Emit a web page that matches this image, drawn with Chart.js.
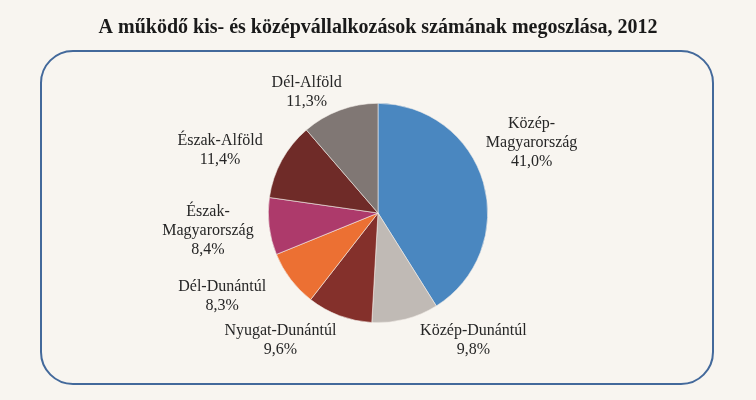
<!DOCTYPE html>
<html>
<head>
<meta charset="utf-8">
<script src="https://cdn.jsdelivr.net/npm/chart.js@4"></script>
<style>
  html, body { margin: 0; padding: 0; background: #F8F5F0; }
  #wrap { width: 756px; height: 400px; position: relative; }
</style>
</head>
<body>
<div id="wrap"><canvas id="pie"></canvas></div>
<script>
// Régiók és arányok (%), az óramutató járásával megegyezően, felülről indulva
const regions = [
    ['Közép-', 'Magyarország'],
    ['Közép-Dunántúl'],
    ['Nyugat-Dunántúl'],
    ['Dél-Dunántúl'],
    ['Észak-', 'Magyarország'],
    ['Észak-Alföld'],
    ['Dél-Alföld']
];
const shares = [41.0, 9.8, 9.6, 8.3, 8.4, 11.4, 11.3];
const sliceColors = ['#4A87C0', '#C0BAB5', '#84302B', '#EC7033', '#AD3A6B', '#6F2B28', '#807774'];

// Címkék helye a kör sugarához viszonyítva (a középponttól)
const labelSpots = [[1.40, -0.64], [0.87, 1.16], [-0.89, 1.16], [-1.42, 0.76], [-1.55, 0.16], [-1.44, -0.57], [-0.65, -1.10]];

const fmt = v => v.toFixed(1).replace('.', ',') + '%';

// Háttér és lekerekített keret
const framePlugin = {
    id: 'frame',
    beforeDraw(chart) {
        const ctx = chart.ctx;
        ctx.save();
        ctx.fillStyle = '#F8F5F0';
        ctx.fillRect(0, 0, chart.width, chart.height);
        const x0 = 41, y0 = 51, x1 = 713, y1 = 384, rad = 32;
        ctx.beginPath();
        ctx.moveTo(x0 + rad, y0);
        ctx.lineTo(x1 - rad, y0);
        ctx.arcTo(x1, y0, x1, y0 + rad, rad);
        ctx.lineTo(x1, y1 - rad);
        ctx.arcTo(x1, y1, x1 - rad, y1, rad);
        ctx.lineTo(x0 + rad, y1);
        ctx.arcTo(x0, y1, x0, y1 - rad, rad);
        ctx.lineTo(x0, y0 + rad);
        ctx.arcTo(x0, y0, x0 + rad, y0, rad);
        ctx.closePath();
        ctx.strokeStyle = '#43699B';
        ctx.lineWidth = 2;
        ctx.stroke();
        ctx.restore();
    }
};

// Szeletcímkék: név + százalék
const labelPlugin = {
    id: 'sliceLabels',
    afterDatasetsDraw(chart) {
        const ctx = chart.ctx;
        const meta = chart.getDatasetMeta(0);
        ctx.save();
        ctx.font = '16px "Liberation Serif", "DejaVu Serif", serif';
        ctx.fillStyle = '#262626';
        ctx.textAlign = 'center';
        ctx.textBaseline = 'middle';
        meta.data.forEach((arc, i) => {
            const p = arc.getProps(['x', 'y', 'outerRadius'], true);
            const lines = regions[i].concat([fmt(shares[i])]);
            const cx = p.x + labelSpots[i][0] * p.outerRadius;
            const cy = p.y + labelSpots[i][1] * p.outerRadius;
            const lh = 19;
            const top = cy - (lines.length - 1) * lh / 2;
            lines.forEach((t, k) => ctx.fillText(t, cx, top + k * lh));
        });
        ctx.restore();
    }
};

new Chart(document.getElementById('pie').getContext('2d'), {
    type: 'pie',
    data: {
        labels: regions,
        datasets: [{
            data: shares,
            backgroundColor: sliceColors,
            borderColor: '#F3EFEA',
            borderWidth: 0.6
        }]
    },
    options: {
        responsive: true,
        maintainAspectRatio: false,
        animation: false,
        layout: { padding: { top: 0, bottom: 77, left: 0, right: 0 } },
        plugins: {
            legend: { display: false },
            tooltip: { enabled: false },
            title: {
                display: true,
                text: 'A működő kis- és középvállalkozások számának megoszlása, 2012',
                color: '#1A1A1A',
                font: { family: '"Liberation Serif", "DejaVu Serif", serif', size: 20, weight: 'bold', lineHeight: 1.2 },
                padding: { top: 16, bottom: 63 }
            }
        }
    },
    plugins: [framePlugin, labelPlugin]
});
</script>
</body>
</html>
